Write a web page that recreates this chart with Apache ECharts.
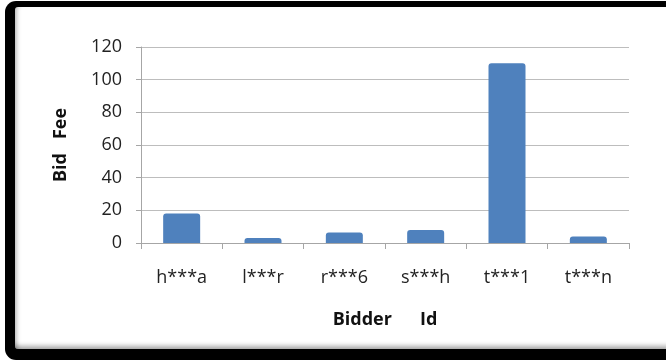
<!DOCTYPE html>
<html>
<head>
<meta charset="utf-8">
<script src="https://cdn.jsdelivr.net/npm/echarts@6/dist/echarts.min.js"></script>
<style>
  html, body { margin: 0; padding: 0; background: #fff; width: 666px; height: 362px; overflow: hidden; }
  .frame { position: absolute; left: 5px; top: 1px; width: 690px; height: 359px; background: #000; border-radius: 11px; }
  .inner { position: absolute; left: 15px; top: 7px; width: 680px; height: 342px; background: #fff; border-radius: 3px;
           box-shadow: inset 5px 0 4px -3px rgba(0,0,0,0.25), inset 0 -6px 5px -3px rgba(0,0,0,0.35); }
  #chart { position: absolute; left: 0; top: 0; width: 666px; height: 362px; }
</style>
</head>
<body>
<div class="frame"></div>
<div class="inner"></div>
<div id="chart"></div>
<script>
// Bid fee per bidder
const bidders = ['h***a', 'l***r', 'r***6', 's***h', 't***1', 't***n'];
const bidFees = [18, 3, 6.5, 8, 110, 4];

const labelFont = '"Open Sans", Lato, sans-serif';
const chart = echarts.init(document.getElementById('chart'), null, { renderer: 'canvas' });

chart.setOption({
  backgroundColor: 'transparent',
  animation: false,
  grid: { left: 141, right: 37, top: 47, bottom: 119 },
  xAxis: {
    type: 'category',
    data: bidders,
    name: 'Bidder      Id',
    nameLocation: 'middle',
    nameGap: 68,
    nameTextStyle: { fontFamily: labelFont, fontWeight: 'bold', fontSize: 18, color: '#111' },
    axisLine: { lineStyle: { color: '#a6a6a6', width: 1 } },
    axisTick: { show: true, length: 6, lineStyle: { color: '#a6a6a6' } },
    axisLabel: { fontFamily: labelFont, fontSize: 18, color: '#222', margin: 26 }
  },
  yAxis: {
    type: 'value',
    min: 0,
    max: 120,
    interval: 20,
    name: 'Bid   Fee',
    nameLocation: 'middle',
    nameGap: 71,
    nameRotate: 90,
    nameTextStyle: { fontFamily: labelFont, fontWeight: 'bold', fontSize: 18, color: '#111' },
    axisLine: { show: true, lineStyle: { color: '#a6a6a6', width: 1 } },
    axisTick: { show: true, length: 5, lineStyle: { color: '#a6a6a6' } },
    axisLabel: { fontFamily: labelFont, fontSize: 18, color: '#222', margin: 19 },
    splitLine: { lineStyle: { color: '#bdbdbd', width: 1 } }
  },
  series: [{
    type: 'bar',
    data: bidFees,
    barWidth: 37,
    itemStyle: { color: '#4f81bd', borderRadius: [3, 3, 0, 0] }
  }]
});
</script>
</body>
</html>
